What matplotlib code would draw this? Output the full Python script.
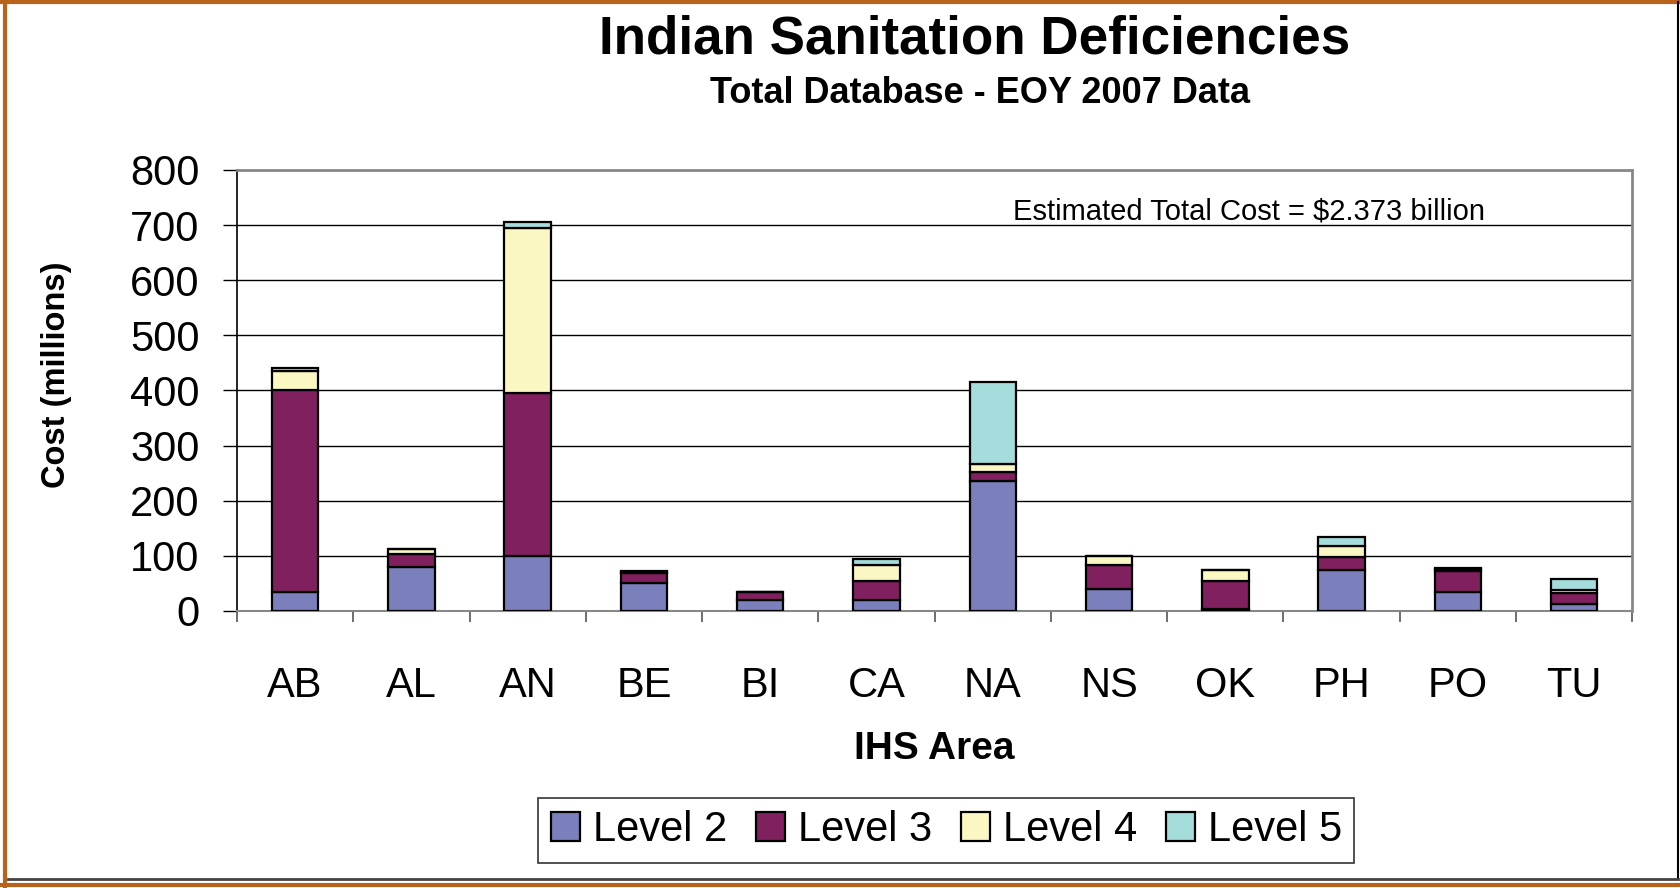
import numpy as np
import matplotlib.pyplot as plt
from matplotlib.lines import Line2D

plt.rcParams['font.family'] = ['Liberation Sans', 'DejaVu Sans']

areas = ['AB', 'AL', 'AN', 'BE', 'BI', 'CA', 'NA', 'NS', 'OK', 'PH', 'PO', 'TU']
level2 = [35, 80, 100, 50, 19, 20, 235, 40, 4, 74, 35, 13]
level3 = [365, 23, 295, 18, 16, 35, 17, 43, 50, 24, 38, 19]
level4 = [35, 10, 300, 3, 0, 28, 15, 16, 20, 20, 3, 6]
level5 = [5, 0, 10, 2, 0, 12, 148, 0, 0, 16, 2, 20]
series = [('Level 2', level2, '#7B7FBB'),
          ('Level 3', level3, '#80205E'),
          ('Level 4', level4, '#FAF7C3'),
          ('Level 5', level5, '#A5DCDC')]

fig = plt.figure(figsize=(16.81, 8.88), dpi=100)
ax = fig.add_axes([0.141, 0.312, 0.83, 0.4966])

x = np.arange(len(areas))
bottom = np.zeros(len(areas))
for name, vals, col in series:
    vals = np.array(vals, dtype=float)
    ax.bar(x, vals, width=0.4, bottom=bottom, color=col, edgecolor='black',
           linewidth=1.6, label=name, zorder=3)
    bottom += vals

ax.set_xlim(-0.5, len(areas) - 0.5)
ax.set_ylim(0, 800)
ax.set_yticks(range(0, 801, 100))
ax.yaxis.grid(True, color='black', linewidth=1.0, zorder=0)
ax.tick_params(axis='y', labelsize=30, length=10, width=1, pad=17, direction='out')

ax.set_xticks(x)
ax.set_xticklabels(areas)
ax.set_xticks(np.arange(-0.5, len(areas), 1), minor=True)
ax.tick_params(axis='x', which='major', length=0, labelsize=30, pad=40)
ax.tick_params(axis='x', which='minor', length=8, width=1.2, color='#555555')

for s in ['top', 'right']:
    ax.spines[s].set_color('#888888')
    ax.spines[s].set_linewidth(2)
ax.spines['left'].set_linewidth(1.2)
ax.spines['bottom'].set_color('#888888')
ax.spines['bottom'].set_linewidth(1.5)

ax.set_ylabel('Cost (millions)', fontsize=23.5, fontweight='bold')
ax.yaxis.set_label_coords(-0.118, 0.535)
ax.set_xlabel('IHS Area', fontsize=28, fontweight='bold', labelpad=18)

ax.text(0.556, 0.905, 'Estimated Total Cost = $2.373 billion', transform=ax.transAxes,
        fontsize=21, va='center', ha='left')

fig.text(0.58, 0.955, 'Indian Sanitation Deficiencies', fontsize=38.2,
         fontweight='bold', ha='center', va='center')
fig.text(0.583, 0.895, 'Total Database - EOY 2007 Data', fontsize=26,
         fontweight='bold', ha='center', va='center')

leg = fig.legend(loc='center', bbox_to_anchor=(0.563, 0.065), ncol=4, fontsize=30,
                 frameon=True, fancybox=False, edgecolor='black',
                 handlelength=0.7, handleheight=0.7, handletextpad=0.3,
                 columnspacing=0.7, borderpad=0.3)
leg.get_frame().set_linewidth(1.2)

# outer frame
orange = '#B8621B'
fig.add_artist(Line2D([0.003, 0.003], [0, 1], color=orange, lw=3, transform=fig.transFigure))
fig.add_artist(Line2D([0, 1], [0.998, 0.998], color=orange, lw=3, transform=fig.transFigure))
fig.add_artist(Line2D([0, 1], [0.003, 0.003], color=orange, lw=3, transform=fig.transFigure))
fig.add_artist(Line2D([0.9985, 0.9985], [0.01, 0.998], color='black', lw=1.5, transform=fig.transFigure))
fig.add_artist(Line2D([0.005, 0.9985], [0.0105, 0.0105], color='#444444', lw=2, transform=fig.transFigure))

fig.savefig('out.png', dpi=100)
